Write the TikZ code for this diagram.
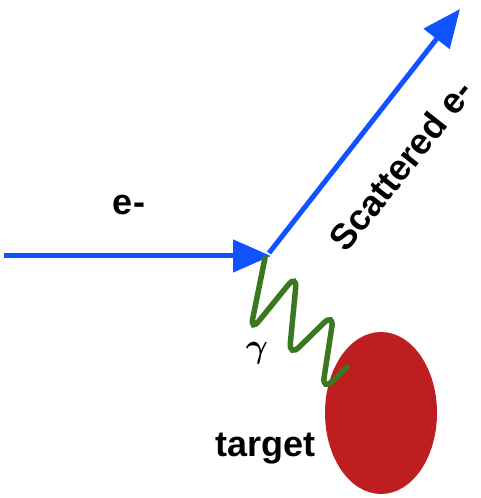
\documentclass[tikz,border=0pt]{standalone}
\usepackage{fontspec}
\usepackage{bm}
\setsansfont{Liberation Sans}
\usetikzlibrary{arrows.meta,shapes.geometric}
\definecolor{eblue}{RGB}{16,82,255}
\definecolor{pgreen}{RGB}{58,120,32}
\definecolor{tred}{RGB}{190,30,32}
\begin{document}
\begin{tikzpicture}[x=1pt,y=1pt,
  electron/.style={draw=eblue,line width=5pt,-{Triangle[length=38pt,width=32pt]}},
  photon/.style={draw=pgreen,line width=5.5pt,rounded corners=14pt,line cap=round},
  lbl/.style={font=\sffamily\bfseries\fontsize{36}{40}\selectfont,inner sep=0pt}]
\useasboundingbox (0,0) rectangle (481,498);
\node[ellipse,fill=tred,minimum width=112pt,minimum height=162pt,inner sep=0pt] (target) at (381,85) {};
\coordinate (ein) at (4,242);
\coordinate (vtx) at (271,242);
\coordinate (vtx2) at (269,245);
\coordinate (eout) at (460,489);
\draw[electron] (ein) -- (vtx);
\draw[electron] (vtx2) -- (eout);
\coordinate (p0) at (265,240);
\coordinate (p1) at (250,166);
\coordinate (p2) at (297,224);
\coordinate (p3) at (289,141);
\coordinate (p4) at (334,185);
\coordinate (p5) at (322,107);
\coordinate (p6) at (347,131);
\draw[photon] (p0) -- (p1) -- (p2) -- (p3) -- (p4) -- (p5) -- (p6);
\node[lbl] (elabel) at (129,293) {e-};
\node[lbl,rotate=51.5] (slabel) at (401,333) {Scattered e-};
\node[inner sep=0pt,scale=3.4] (glabel) at (257,145) {$\bm{\gamma}$};
\node[lbl,anchor=base west] (tlabel) at (215,41) {target};
\end{tikzpicture}
\end{document}
